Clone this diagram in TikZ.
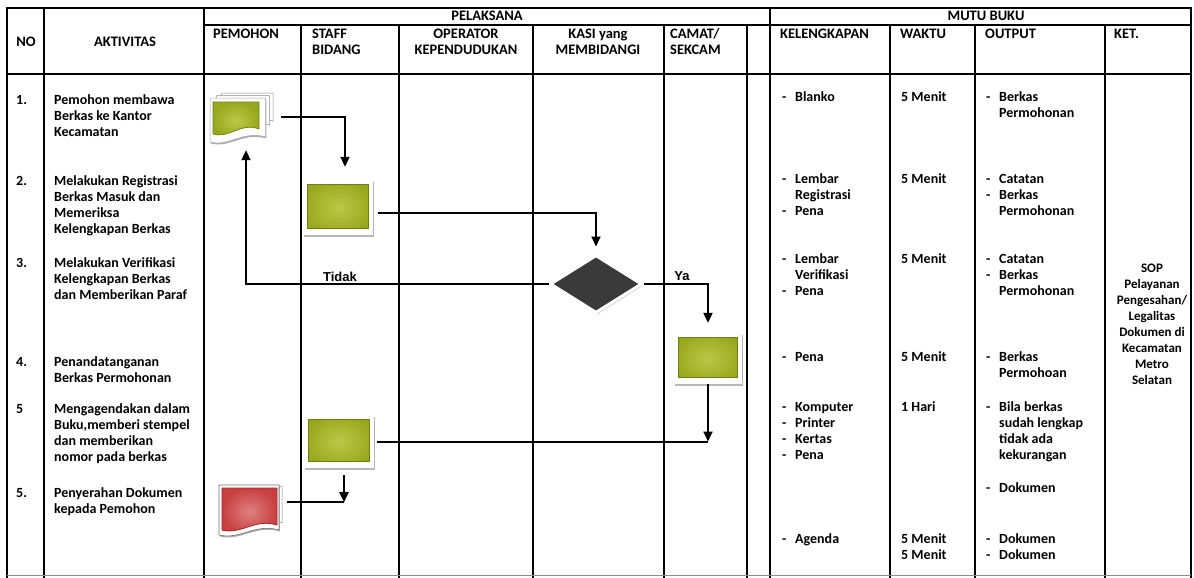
\documentclass[tikz,border=0pt]{standalone}
\usepackage{fontspec}
\setmainfont{Carlito}
\newfontfamily\arialfont{Liberation Sans}
\usetikzlibrary{arrows.meta,shadows,shapes.geometric,calc}
\definecolor{boxgreen}{HTML}{98A81E}
\definecolor{boxgreenlt}{HTML}{BCC748}
\definecolor{boxgreendk}{HTML}{6F7E0E}
\definecolor{docred}{HTML}{C8403F}
\definecolor{docredlt}{HTML}{DE8080}
\definecolor{docreddk}{HTML}{A82025}
\definecolor{diadark}{HTML}{3A3A3A}
\newcommand\wavedoc[5]{\path[#1] (#2,#3) -- (#4,#3) -- (#4,#5-7) .. controls ({(#2)+0.6*((#4)-(#2))},#5-14) and ({(#2)+0.35*((#4)-(#2))},#5+3) .. (#2,#5-2) -- cycle;}
\newcommand\txtat[4]{\node[txt] (#1) at (#2,#3-7.2) {\strut #4};}
\newcommand\hdat[4]{\node[hdl] (#1) at (#2,#3-7.2) {\strut #4};}
\newcommand\dashitem{\makebox[13pt][l]{-}}
\newcommand\dashcont{\hspace*{13pt}}
\begin{document}
\begin{tikzpicture}[x=1pt,y=-1pt,
  grid/.style={line width=1.2pt, black},
  arr/.style={line width=2pt, -{Triangle[length=10pt,width=9pt]}},
  conn/.style={line width=2pt},
  txt/.style={font=\bfseries\fontsize{14}{16}\selectfont, align=left, inner sep=0pt, anchor=north west},
  hdl/.style={font=\bfseries\fontsize{14.5}{16}\selectfont, align=left, inner sep=0pt, anchor=north west},
  hd/.style={font=\bfseries\fontsize{14.5}{16}\selectfont, inner sep=0pt},
  lbl/.style={font=\arialfont\bfseries\fontsize{13}{14}\selectfont, inner sep=0pt},
  anchorbox/.style={rectangle, draw=none, inner sep=0pt},
  proc/.style={rectangle, fill=white, inner sep=0pt,
    drop shadow={shadow xshift=1.2pt, shadow yshift=-1.5pt, fill=black!35, opacity=0.8},
    path picture={\path[draw=boxgreendk, line width=0.7pt, inner color=boxgreenlt, outer color=boxgreen]
      ([shift={(4pt,-4pt)}]path picture bounding box.north west) rectangle
      ([shift={(-5pt,7pt)}]path picture bounding box.south east);}},
  decision/.style={diamond, fill=diadark, draw=white, line width=3pt, inner sep=0pt,
    minimum width=92pt, minimum height=58pt,
    drop shadow={shadow xshift=1pt, shadow yshift=-2pt, fill=black!25, opacity=0.8}},
  page/.style={fill=white, draw=black!45, line width=0.5pt},
]
\useasboundingbox (0,0) rectangle (1194,578);
\fill[white] (0,0) rectangle (1194,578);

% ---------- table grid ----------
\draw[grid] (7,578) -- (7,8) -- (1191,8) -- (1191,578);
\draw[grid] (7,74) -- (1191,74);
\draw[grid] (204,25) -- (1191,25);
\foreach \x in {44,204,770} \draw[grid] (\x,8) -- (\x,578);
\foreach \x in {301,399,533,664,747,890,975,1105} \draw[grid] (\x,25) -- (\x,578);
\draw[line width=0.8pt, black!45] (7,575) -- (1191,575);

% ---------- headers ----------
\node[hd] (hno) at (26,42) {NO};
\node[hd] (hakt) at (125,42) {AKTIVITAS};
\node[hd] (hpel) at (487,16) {PELAKSANA};
\node[hd] (hmutu) at (986,16) {MUTU BUKU};
\hdat{hpem}{213}{34}{PEMOHON}
\hdat{hstaff}{312}{34}{STAFF\\BIDANG}
\node[hdl, anchor=north, align=center] (hop) at (466,34-7.2) {\strut OPERATOR\\KEPENDUDUKAN};
\node[hdl, anchor=north, align=center] (hkasi) at (598,34-7.2) {\strut KASI yang\\MEMBIDANGI};
\hdat{hcamat}{670}{34}{CAMAT/\\SEKCAM}
\hdat{hkel}{780}{34}{KELENGKAPAN}
\hdat{hwak}{900}{34}{WAKTU}
\hdat{hout}{985}{34}{OUTPUT}
\hdat{hket}{1114}{34}{KET.}

% ---------- numbers and activities ----------
\txtat{n1}{16}{100}{1.}
\txtat{n2}{16}{181}{2.}
\txtat{n3}{16}{263}{3.}
\txtat{n4}{16}{362}{4.}
\txtat{n5}{16}{409}{5}
\txtat{n6}{16}{493}{5.}
\txtat{a1}{54}{100}{Pemohon membawa\\Berkas ke Kantor\\Kecamatan}
\txtat{a2}{54}{181}{Melakukan Registrasi\\Berkas Masuk dan\\Memeriksa\\Kelengkapan Berkas}
\txtat{a3}{54}{263}{Melakukan Verifikasi\\Kelengkapan Berkas\\dan Memberikan Paraf}
\txtat{a4}{54}{362}{Penandatanganan\\Berkas Permohonan}
\txtat{a5}{54}{409}{Mengagendakan dalam\\Buku,memberi stempel\\dan memberikan\\nomor pada berkas}
\txtat{a6}{54}{493}{Penyerahan Dokumen\\kepada Pemohon}

% ---------- kelengkapan ----------
\txtat{k1}{782}{97}{\dashitem Blanko}
\txtat{k2}{782}{179}{\dashitem Lembar\\\dashcont Registrasi\\\dashitem Pena}
\txtat{k3}{782}{259}{\dashitem Lembar\\\dashcont Verifikasi\\\dashitem Pena}
\txtat{k4}{782}{357}{\dashitem Pena}
\txtat{k5}{782}{407}{\dashitem Komputer\\\dashitem Printer\\\dashitem Kertas\\\dashitem Pena}
\txtat{k6}{782}{539}{\dashitem Agenda}

% ---------- waktu ----------
\txtat{w1}{901}{97}{5 Menit}
\txtat{w2}{901}{179}{5 Menit}
\txtat{w3}{901}{259}{5 Menit}
\txtat{w4}{901}{357}{5 Menit}
\txtat{w5}{901}{407}{1 Hari}
\txtat{w6}{901}{539}{5 Menit\\5 Menit}

% ---------- output ----------
\txtat{o1}{986}{97}{\dashitem Berkas\\\dashcont Permohonan}
\txtat{o2}{986}{179}{\dashitem Catatan\\\dashitem Berkas\\\dashcont Permohonan}
\txtat{o3}{986}{259}{\dashitem Catatan\\\dashitem Berkas\\\dashcont Permohonan}
\txtat{o4}{986}{357}{\dashitem Berkas\\\dashcont Permohoan}
\txtat{o5}{986}{407}{\dashitem Bila berkas\\\dashcont sudah lengkap\\\dashcont tidak ada\\\dashcont kekurangan}
\txtat{o6}{986}{488}{\dashitem Dokumen}
\txtat{o7}{986}{539}{\dashitem Dokumen\\\dashitem Dokumen}

% ---------- ket ----------
\node[txt, font=\bfseries\fontsize{13}{16}\selectfont, anchor=north, align=center] (ket) at (1152,268-7.2) {\strut SOP\\Pelayanan\\Pengesahan/\\Legalitas\\Dokumen di\\Kecamatan\\Metro\\Selatan};

% ---------- flow shapes ----------
\node[anchorbox, minimum width=63pt, minimum height=50pt] (d1) at (241.5,118) {};
\begin{scope}[shift={(d1.center)}]
  \wavedoc{page}{-20}{-25}{31.5}{10}
  \wavedoc{page}{-25}{-22.5}{28}{14}
  \wavedoc{fill=white, draw=black!35, line width=0.5pt, drop shadow={shadow xshift=0.8pt, shadow yshift=-1.5pt, fill=black!40, opacity=0.8}}{-31.5}{-20}{24}{26}
  \wavedoc{draw=boxgreendk, line width=0.7pt, inner color=boxgreenlt, outer color=boxgreen}{-28.5}{-16}{17.5}{18}
\end{scope}

\node[proc, minimum width=70pt, minimum height=55pt] (b2) at (338,207.5) {};
\node[decision] (dia) at (596,284) {};
\node[proc, minimum width=68pt, minimum height=51pt] (b4) at (708,358.5) {};
\node[proc, minimum width=70pt, minimum height=53pt] (b5) at (339,441.5) {};

\node[anchorbox, minimum width=64pt, minimum height=50pt] (d6) at (251,511) {};
\begin{scope}[shift={(d6.center)}]
  \wavedoc{page}{-26}{-24.5}{31}{19}
  \wavedoc{fill=white, draw=black!55, line width=0.6pt, drop shadow={shadow xshift=0.8pt, shadow yshift=-1.5pt, fill=black!40, opacity=0.8}}{-32}{-26}{28}{26}
  \wavedoc{draw=docreddk, line width=0.8pt, inner color=docredlt, outer color=docred}{-29}{-23}{26}{21}
\end{scope}

% ---------- connectors ----------
\coordinate (c1) at ([xshift=7pt,yshift=13pt]b2.north);
\draw[arr] ([xshift=8pt,yshift=1pt]d1.east) -| (c1);
\draw[arr] ([xshift=5pt,yshift=-5.5pt]b2.east) -| ([yshift=7pt]dia.north);
\coordinate (c3) at ($(d1.south)+(4.5pt,-7pt)$);
\draw[arr] (dia.west) -| (c3);
\draw[arr] (dia.east) -| ([yshift=10pt]b4.north);
\coordinate (c5) at (b4.south |- b5.east);
\draw[arr] (b4.south) -- (c5);
\draw[conn] (c5) -- ([xshift=3pt]b5.east);
\coordinate (c6) at ([xshift=5pt,yshift=-34pt]b5.south);
\draw[arr] ([xshift=5pt,yshift=-7pt]b5.south) -- (c6);
\coordinate (c6w) at ($(d6.east |- c6)+(4pt,0pt)$);
\draw[conn] (c6) -- (c6w);

\node[lbl] (tidak) at (340,277) {Tidak};
\node[lbl] (ya) at (682,276) {Ya};
\end{tikzpicture}
\end{document}
